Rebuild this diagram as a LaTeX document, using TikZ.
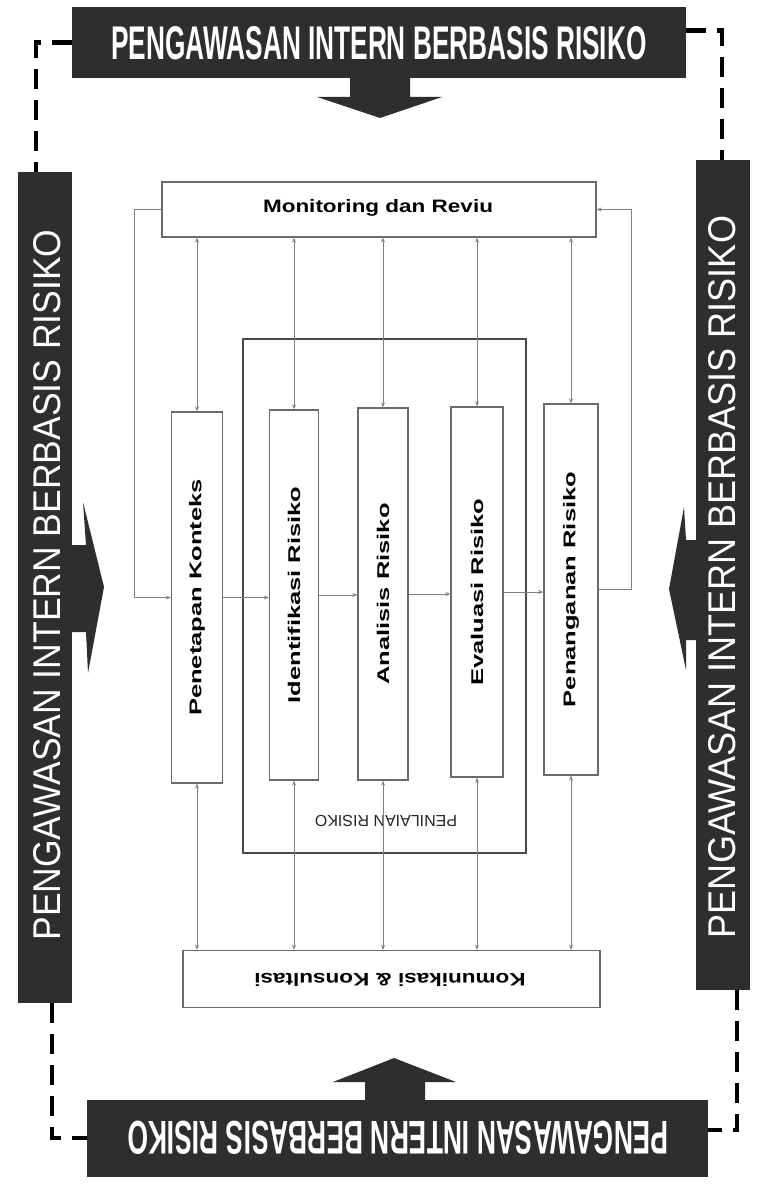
\documentclass[tikz,border=0pt]{standalone}
\usepackage{fontspec}
\setmainfont{Liberation Sans}
\usetikzlibrary{arrows.meta,calc}
\definecolor{bannerc}{HTML}{2E2E2E}
\definecolor{boxline}{HTML}{6A6A6A}
\definecolor{thinline}{HTML}{808080}
\definecolor{bigline}{HTML}{4A4A4A}
\newcommand{\pibr}{PENGAWASAN INTERN BERBASIS RISIKO}
\begin{document}
\begin{tikzpicture}[x=1pt,y=-1pt,
  banner/.style={fill=bannerc, draw=none, inner sep=0pt},
  bantext/.style={text=white, inner sep=0pt},
  stepbox/.style={draw=boxline, line width=1.3pt, fill=white, inner sep=0pt},
  bigbox/.style={draw=bigline, line width=2pt, inner sep=0pt},
  conn/.style={draw=thinline, line width=0.7pt},
  onetip/.style={-{Stealth[length=5pt,width=4pt]}},
  twotip/.style={{Stealth[length=5pt,width=4pt]}-{Stealth[length=5pt,width=4pt]}},
  dashline/.style={line width=4.5pt, dash pattern=on 20pt off 11pt, black},
  lab/.style={font=\bfseries\fontsize{17}{17}\selectfont, text=black, inner sep=0pt}
]
\fill[white] (0,0) rectangle (756,1185);
\path[use as bounding box] (0,0) rectangle (756,1185);

% banners
\node[banner, minimum width=614pt, minimum height=71pt] (topb) at (379,42.5) {};
\node[bantext] (topt) at (379,43.5) {\resizebox{535pt}{33pt}{\bfseries\pibr}};
\node[banner, minimum width=54pt, minimum height=831pt] (leftb) at (45,587.5) {};
\node[bantext, rotate=90] (leftt) at (47,585) {\resizebox{711pt}{27pt}{\pibr}};
\node[banner, minimum width=54pt, minimum height=830pt] (rightb) at (723,575) {};
\node[bantext, rotate=90] (rightt) at (722,577) {\resizebox{722pt}{27pt}{\pibr}};
\node[banner, minimum width=621pt, minimum height=77pt] (botb) at (397.5,1138) {};
\node[bantext, rotate=180] (bott) at (398,1138) {\resizebox{541pt}{33pt}{\bfseries\pibr}};

% fat arrows
\fill[bannerc] (350,76) -- (410,76) -- (410,97) -- (442,97) -- (380,118) -- (317,97) -- (350,97) -- cycle;
\fill[bannerc] (365,1102) -- (365,1082) -- (333,1082) -- (394,1058) -- (456,1082) -- (425,1082) -- (425,1102) -- cycle;
\fill[bannerc] (70,545) -- (86,545) -- (83,502) -- (104,587) -- (88,673) -- (86,632) -- (70,632) -- cycle;
\fill[bannerc] (698,540) -- (686,540) -- (684,507) -- (669,589) -- (686,670) -- (686,640) -- (698,640) -- cycle;

% dashed frame
\draw[dashline] (topb.west) -| ([xshift=-9pt]leftb.north);
\draw[dashline] ([yshift=12pt]topb.east) -| ([xshift=-1pt]rightb.north);
\draw[dashline] ([xshift=7pt]leftb.south) |- (botb.west);
\draw[dashline] ([xshift=14pt]rightb.south) |- ([yshift=8pt]botb.east);

% main boxes
\node[stepbox, minimum width=434pt, minimum height=55pt] (mon) at (379,209.5) {};
\node[lab, font=\bfseries\fontsize{18}{18}\selectfont] (mont) at (378,208) {\scalebox{1.25}[1]{Monitoring dan Reviu}};
\node[stepbox, minimum width=417pt, minimum height=57pt] (kom) at (391.5,979) {};
\node[lab, font=\bfseries\fontsize{18}{18}\selectfont, rotate=180] (komt) at (390,980) {\scalebox{1.25}[1]{Komunikasi \& Konsultasi}};
\node[bigbox, minimum width=283pt, minimum height=514pt] (pen) at (384.5,596) {};
\node[inner sep=0pt, rotate=180, font=\fontsize{16}{16}\selectfont, text=black!85] (pent) at (386,821) {PENILAIAN RISIKO};

\node[stepbox, minimum width=51pt, minimum height=371pt] (p1) at (197,597.5) {};
\node[stepbox, minimum width=49pt, minimum height=370pt] (p2) at (294,595) {};
\node[stepbox, minimum width=50pt, minimum height=372pt] (p3) at (383,594) {};
\node[stepbox, minimum width=52pt, minimum height=370pt] (p4) at (477,592) {};
\node[stepbox, minimum width=54pt, minimum height=371pt] (p5) at (571,589.5) {};
\node[lab, rotate=90] (p1t) at (p1.center) {\scalebox{1.5}[1]{Penetapan Konteks}};
\node[lab, rotate=90] (p2t) at (p2.center) {\scalebox{1.5}[1]{Identifikasi Risiko}};
\node[lab, rotate=90] (p3t) at (p3.center) {\scalebox{1.5}[1]{Analisis Risiko}};
\node[lab, rotate=90] (p4t) at (p4.center) {\scalebox{1.5}[1]{Evaluasi Risiko}};
\node[lab, rotate=90] (p5t) at (p5.center) {\scalebox{1.5}[1]{Penanganan Risiko}};

% connectors to Monitoring and Komunikasi
\foreach \b in {p1,p2,p3,p4,p5}{
  \draw[conn, twotip] (\b.north) -- (\b.north |- mon.south);
  \draw[conn, twotip] (\b.south) -- (\b.south |- kom.north);
}
% flow
\draw[conn, onetip] (p1.east) -- (p1.east -| p2.west);
\draw[conn, onetip] (p2.east) -- (p2.east -| p3.west);
\draw[conn, onetip] (p3.east) -- (p3.east -| p4.west);
\draw[conn, onetip] (p4.east) -- (p4.east -| p5.west);
% feedback loops
\draw[conn, onetip] (mon.west) -- ++(-27,0) |- (p1.west);
\draw[conn, onetip] (p5.east) -- ++(33,0) |- (mon.east);
\end{tikzpicture}
\end{document}
